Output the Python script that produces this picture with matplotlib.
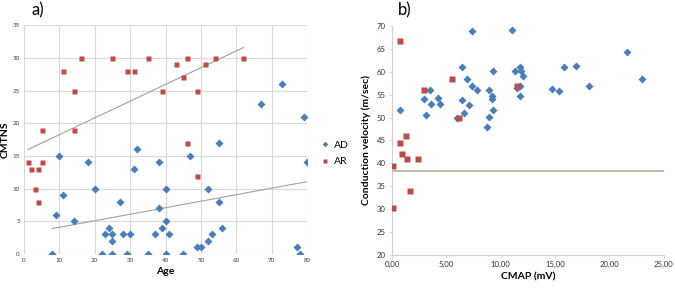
import numpy as np
import matplotlib
matplotlib.use('Agg')
import matplotlib.pyplot as plt
from matplotlib.ticker import FuncFormatter

plt.rcParams['font.family'] = ['Lato', 'DejaVu Sans']

BLUE = '#4a7ebb'
RED = '#be4b48'

# panel a) CMTNS vs Age
ad_age = [8, 9, 10, 11, 14, 18, 20, 22, 23, 24, 25, 25, 25, 27, 28, 29, 30, 31, 32, 35,
          37, 38, 38, 39, 40, 40, 40, 41, 45, 47, 49, 50, 52, 52, 53, 55, 55, 56, 67, 73,
          77, 78, 79, 80]
ad_cmtns = [0, 6, 15, 9, 5, 14, 10, 0, 3, 4, 3, 2, 0, 8, 3, 0, 3, 13, 16, 0,
            3, 14, 7, 4, 10, 5, 0, 3, 0, 15, 1, 1, 2, 10, 3, 17, 8, 4, 23, 26,
            1, 0, 21, 14]
ar_age = [1, 2, 3, 4, 4, 5, 5, 11, 14, 14, 16, 25, 29, 31, 35, 39, 43, 45, 46, 46,
          49, 49, 51, 54, 62]
ar_cmtns = [14, 13, 10, 13, 8, 14, 19, 28, 25, 19, 30, 30, 28, 28, 30, 25, 29, 27, 30, 17,
            25, 12, 29, 30, 30]
# linear trendlines (slope, intercept)
ad_trend = [0.0996, 3.1]
ar_trend = [0.256, 15.7]

# panel b) conduction velocity vs CMAP
ad_cmap = [0.7, 2.93, 3.14, 3.53, 3.6, 4.26, 4.4, 5.95, 6.46, 6.46, 6.6, 6.85, 7.07, 7.37,
           7.37, 7.85, 8.73, 8.9, 8.94, 9.18, 9.2, 9.33, 9.33, 11.0, 11.3, 11.5, 11.74,
           11.74, 11.78, 11.87, 12.08, 14.7, 15.4, 15.8, 16.9, 18.1, 21.6, 23.0]
ad_cv = [51.7, 54.0, 50.5, 56.0, 52.9, 54.3, 52.9, 50.0, 61.1, 53.9, 51.0, 58.5, 52.8, 69.0,
         57.0, 56.0, 48.0, 56.0, 50.1, 54.1, 54.7, 60.1, 51.6, 69.1, 60.1, 56.5, 61.0,
         57.0, 54.8, 60.2, 59.0, 56.3, 55.8, 61.0, 61.2, 57.0, 64.4, 58.5]
ar_cmap = [0.06, 0.06, 0.7, 0.75, 0.94, 1.27, 1.33, 1.66, 2.36, 2.96, 5.5, 6.16, 11.5]
ar_cv = [39.5, 30.3, 66.7, 44.5, 42.0, 46.0, 40.9, 34.0, 40.9, 56.0, 58.5, 50.0, 57.0]
cv_cutoff = 38.4

fig = plt.figure(figsize=(6.75, 2.89), dpi=100)

# ---- a) ----
ax1 = fig.add_axes([0.0356, 0.121, 0.4194, 0.792])
ax1.plot(ad_age, ad_cmtns, 'D', color=BLUE, ms=3.6, mec='none', label='AD', zorder=3)
ax1.plot(ar_age, ar_cmtns, 's', color=RED, ms=3.6, mec='none', label='AR', zorder=3)
for xs, (k, b) in ((ad_age, ad_trend), (ar_age, ar_trend)):
    xx = np.array([min(xs), max(xs)])
    ax1.plot(xx, k * xx + b, color='#a0a0a0', lw=0.8, zorder=2)
ax1.set_xlim(0, 80)
ax1.set_ylim(0, 35)
ax1.set_xticks(range(0, 81, 10))
ax1.set_yticks(range(0, 36, 5))
ax1.grid(True, color='#d9d9d9', lw=0.8)
ax1.set_axisbelow(True)
for s in ax1.spines.values():
    s.set_visible(False)
ax1.tick_params(length=0, labelsize=4.5, labelcolor='#404040', pad=3)
ax1.set_xlabel('Age', fontsize=7.5, fontweight='bold', labelpad=3)
ax1.set_ylabel('CMTNS', fontsize=7.5, fontweight='bold')
ax1.yaxis.set_label_coords(-0.05, 0.5)
ax1.legend(loc='center left', bbox_to_anchor=(1.02, 0.44), frameon=False,
           fontsize=7.5, handlelength=0.6, handletextpad=0.5, labelspacing=0.7,
           markerscale=0.8)
fig.text(0.047, 0.965, 'a)', fontsize=12, va='center')

# ---- b) ----
ax2 = fig.add_axes([0.581, 0.118, 0.402, 0.792])
ax2.plot(ad_cmap, ad_cv, 'D', color=BLUE, ms=4.2, mec='none', zorder=3)
ax2.plot(ar_cmap, ar_cv, 's', color=RED, ms=4.2, mec='none', zorder=3)
ax2.axhline(cv_cutoff, color='#b0ae98', lw=1.2, zorder=2)
ax2.set_xlim(0, 25)
ax2.set_ylim(20, 70)
ax2.set_xticks(np.arange(0, 25.1, 5))
ax2.set_yticks(range(20, 71, 5))
ax2.xaxis.set_major_formatter(FuncFormatter(lambda v, p: f'{v:.2f}'.replace('.', ',')))
for side in ('top', 'right'):
    ax2.spines[side].set_visible(False)
for side in ('left', 'bottom'):
    ax2.spines[side].set_color('#d0d0d0')
    ax2.spines[side].set_linewidth(0.8)
ax2.tick_params(length=2.5, width=0.6, color='#d0d0d0', labelsize=5.6, labelcolor='#303030', pad=2)
ax2.set_xlabel('CMAP (mV)', fontsize=7.5, fontweight='bold', labelpad=3)
ax2.set_ylabel('Conduction velocity (m/sec)', fontsize=7.5, fontweight='bold', labelpad=4)
fig.text(0.59, 0.965, 'b)', fontsize=12, va='center')

fig.savefig('out.png', dpi=100)
